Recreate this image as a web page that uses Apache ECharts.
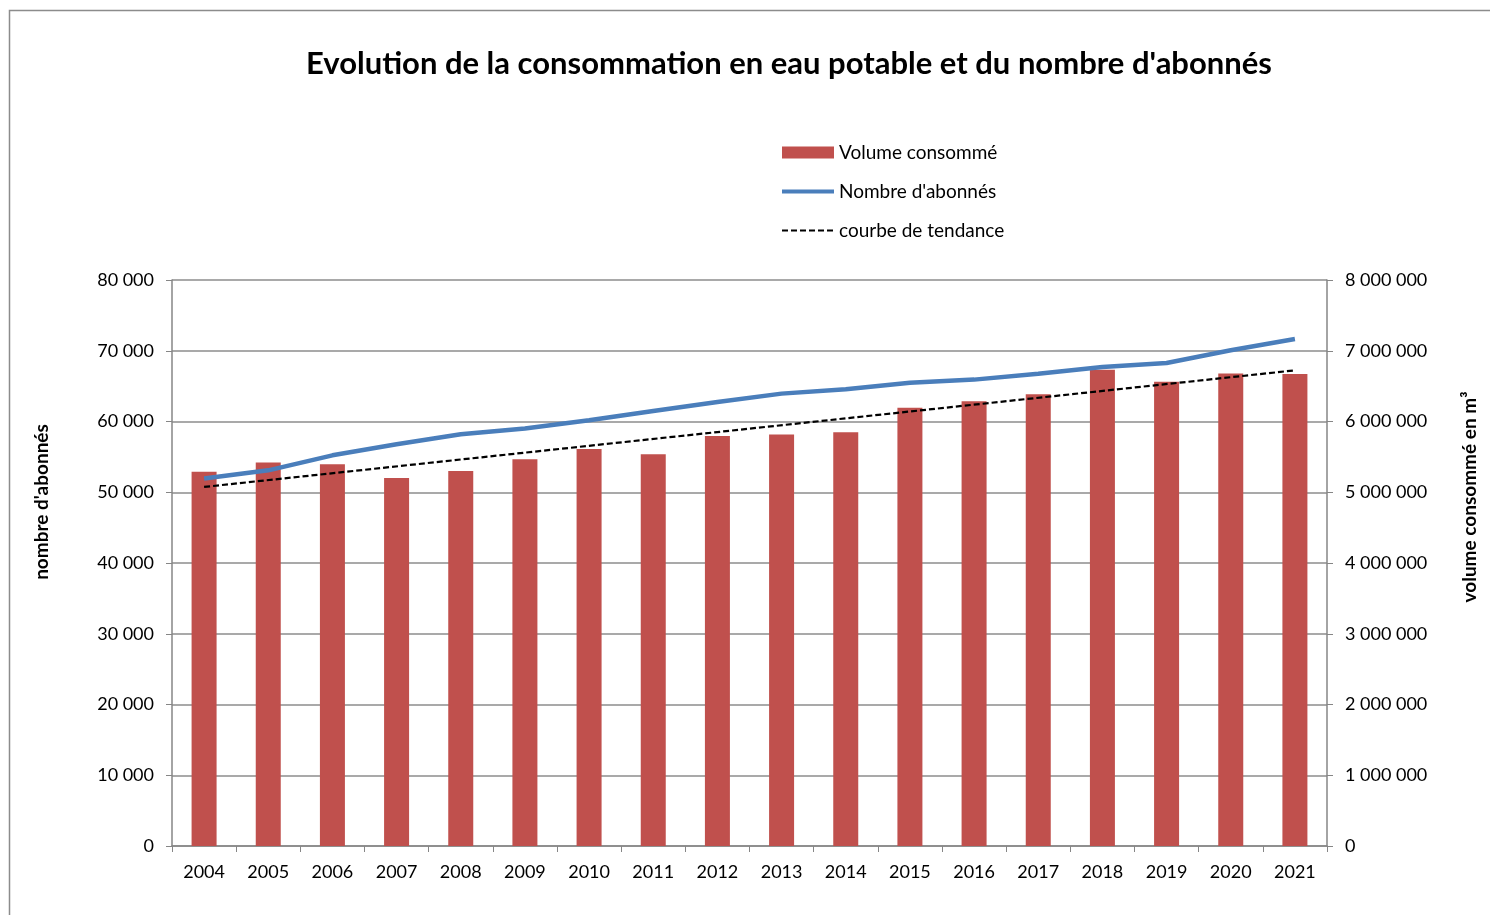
<!DOCTYPE html>
<html>
<head>
<meta charset="utf-8">
<script src="https://cdn.jsdelivr.net/npm/echarts@6/dist/echarts.min.js"></script>
<style>
  html, body { margin: 0; padding: 0; background: #fff; }
  #chart { width: 1490px; height: 915px; }
</style>
</head>
<body>
<div id="chart"></div>
<script>
// données
var years = ['2004', '2005', '2006', '2007', '2008', '2009', '2010', '2011', '2012',
  '2013', '2014', '2015', '2016', '2017', '2018', '2019', '2020', '2021']
// volume consommé (m³)
var volume = [5290000, 5420000, 5395000, 5200000, 5300000, 5466000, 5610000, 5537000, 5795000,
  5815000, 5847000, 6196000, 6285000, 6384000, 6733000, 6563000, 6680000, 6670000]
// nombre d'abonnés
var abonnes = [51940, 53100, 55220, 56780, 58190, 59000, 60170, 61480, 62750,
  63940, 64550, 65490, 65920, 66760, 67700, 68260, 70060, 71650]
// courbe de tendance (extrémités)
var tendance = [5075000, null, null, null, null, null, null, null, null,
  null, null, null, null, null, null, null, null, 6723000]

var fontFamily = 'Lato, "Open Sans", sans-serif'

function fmt(v) {
  return String(v).replace(/\B(?=(\d{3})+(?!\d))/g, ' ')
}

var chart = echarts.init(document.getElementById('chart'))

var noSymbol = { color: 'rgba(0,0,0,0)', borderWidth: 0 }

var option = {
  backgroundColor: '#fff',
  animation: false,
  textStyle: { fontFamily: fontFamily },
  title: {
    text: "Evolution de la consommation en eau potable et du nombre d'abonnés",
    left: 301,
    top: 43,
    textStyle: { fontSize: 31, fontWeight: 'bold', color: '#000', fontFamily: fontFamily }
  },
  legend: {
    orient: 'vertical',
    left: 775,
    top: 138,
    itemWidth: 52,
    itemHeight: 12,
    itemGap: 20,
    itemTextGap: 6,
    textStyle: { fontSize: 19, color: '#000' },
    data: [
      { name: 'Volume consommé', icon: 'rect' },
      { name: "Nombre d'abonnés", itemStyle: noSymbol, lineStyle: { width: 4, color: '#4a7ebb' } },
      { name: 'courbe de tendance', itemStyle: noSymbol, lineStyle: { width: 2, color: '#000', type: [6, 3] } }
    ]
  },
  graphic: [
    {
      type: 'rect',
      shape: { x: 9.5, y: 10.5, width: 1500, height: 920 },
      style: { fill: 'none', stroke: '#8c8c8c', lineWidth: 1.5 }
    },
    {
      type: 'text',
      x: 42, y: 502,
      rotation: Math.PI / 2,
      style: {
        text: "nombre d'abonnés", fontSize: 19, fontWeight: 'bold', fill: '#000',
        fontFamily: fontFamily, align: 'center', verticalAlign: 'middle'
      }
    },
    {
      type: 'text',
      x: 1470, y: 497,
      rotation: Math.PI / 2,
      style: {
        text: 'volume consommé en m³', fontSize: 19, fontWeight: 'bold', fill: '#000',
        fontFamily: fontFamily, align: 'center', verticalAlign: 'middle'
      }
    }
  ],
  grid: { left: 172, right: 163, top: 280, bottom: 69, containLabel: false },
  xAxis: {
    type: 'category',
    data: years,
    boundaryGap: true,
    axisLine: { lineStyle: { color: '#868686', width: 1.5 } },
    axisTick: { show: true, length: 6, inside: false, lineStyle: { color: '#868686' } },
    axisLabel: { color: '#000', fontSize: 18, margin: 17 }
  },
  yAxis: [
    {
      type: 'value',
      min: 0, max: 80000, interval: 10000,
      axisLine: { show: true, lineStyle: { color: '#868686', width: 1.5 } },
      axisTick: { show: true, length: 6, lineStyle: { color: '#868686' } },
      axisLabel: { color: '#000', fontSize: 18, margin: 18, formatter: fmt },
      splitLine: { show: true, lineStyle: { color: '#8c8c8c', width: 1.5 } }
    },
    {
      type: 'value',
      min: 0, max: 8000000, interval: 1000000,
      axisLine: { show: true, lineStyle: { color: '#868686', width: 1.5 } },
      axisTick: { show: true, length: 6, lineStyle: { color: '#868686' } },
      axisLabel: { color: '#000', fontSize: 18, margin: 18, formatter: fmt },
      splitLine: { show: false }
    }
  ],
  series: [
    {
      name: 'Volume consommé',
      type: 'bar',
      yAxisIndex: 1,
      data: volume,
      barWidth: 25,
      itemStyle: { color: '#c0504d' }
    },
    {
      name: "Nombre d'abonnés",
      type: 'line',
      yAxisIndex: 0,
      data: abonnes,
      symbol: 'none',
      lineStyle: { color: '#4a7ebb', width: 4.5 },
      itemStyle: { color: '#4a7ebb' }
    },
    {
      name: 'courbe de tendance',
      type: 'line',
      yAxisIndex: 1,
      data: tendance,
      connectNulls: true,
      symbol: 'none',
      lineStyle: { color: '#000', width: 2.2, type: [6, 3] },
      itemStyle: { color: '#000' }
    }
  ]
}

chart.setOption(option)
</script>
</body>
</html>
